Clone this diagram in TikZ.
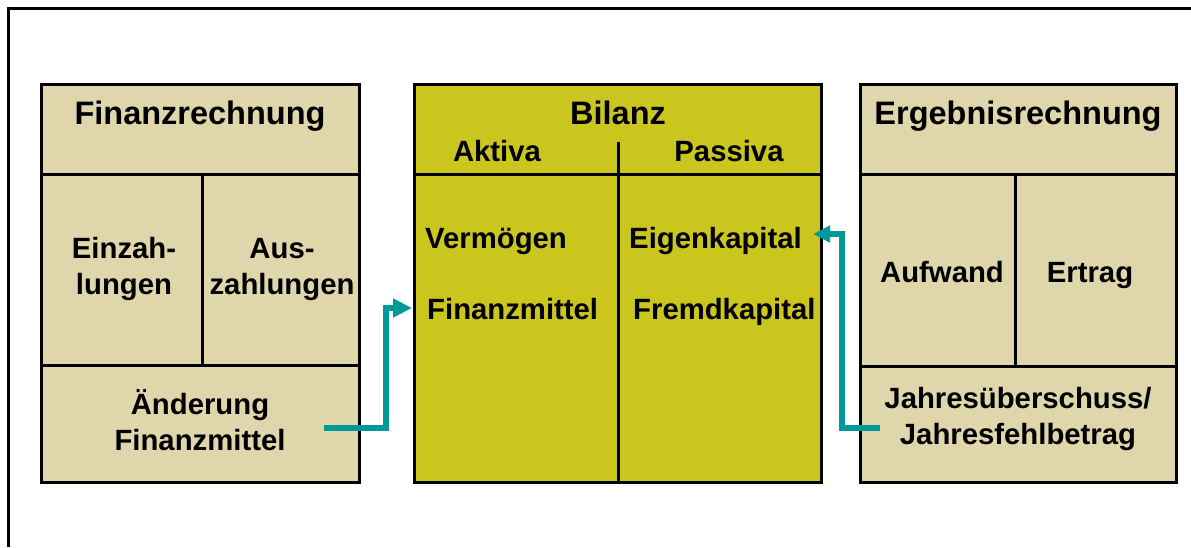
\documentclass[tikz,border=0pt]{standalone}
\usepackage{fontspec}
\setmainfont{Liberation Sans}
\usetikzlibrary{arrows.meta}
\definecolor{boxtan}{HTML}{DFD6AC}
\definecolor{boxolive}{HTML}{CAC61E}
\definecolor{arrowteal}{HTML}{009999}
\begin{document}
\begin{tikzpicture}[x=1pt,y=-1pt,
  cell/.style={draw=black, line width=3pt},
  frame/.style={draw=black, line width=3pt},
  title/.style={font=\bfseries\fontsize{32.5}{39}\selectfont, anchor=base, inner sep=0pt},
  lbl/.style={font=\bfseries\fontsize{29.3}{35.5}\selectfont, anchor=base, inner sep=0pt, align=center},
  lblw/.style={font=\bfseries\fontsize{29.3}{35.5}\selectfont, anchor=base west, inner sep=0pt},
  conn/.style={draw=arrowteal, line width=6pt, -{Triangle[length=19pt,width=18pt]}}]
\useasboundingbox (0,0) rectangle (1191,547);
\draw[frame] (8,547) -- (8,8) -- (1191,8);
% Finanzrechnung
\draw[cell, fill=boxtan] (41,84) rectangle (359,174);
\draw[cell, fill=boxtan] (41,174) rectangle (202,365);
\draw[cell, fill=boxtan] (202,174) rectangle (359,365);
\draw[cell, fill=boxtan] (41,365) rectangle (359,482);
% Bilanz
\draw[cell, fill=boxolive] (414,84) rectangle (821,174);
\draw[cell, fill=boxolive] (414,174) rectangle (618,482);
\draw[cell, fill=boxolive] (618,174) rectangle (821,482);
\draw[cell] (618,142) -- (618,174);
% Ergebnisrechnung
\draw[cell, fill=boxtan] (860,84) rectangle (1176,174);
\draw[cell, fill=boxtan] (860,174) rectangle (1015,366);
\draw[cell, fill=boxtan] (1015,174) rectangle (1176,366);
\draw[cell, fill=boxtan] (860,366) rectangle (1176,482);
% texts (multi-line nodes: base = baseline of last line)
\node[title] (finT) at (200,124) {Finanzrechnung};
\node[lbl] (einz) at (124,294) {Einzah-\\lungen};
\node[lbl] (ausz) at (282,294) {Aus-\\zahlungen};
\node[lbl] (aend) at (200,450) {Änderung\\Finanzmittel};
\node[title] (bilT) at (618,124) {Bilanz};
\node[lbl] (akt) at (497,161) {Aktiva};
\node[lbl] (pas) at (729,161) {Passiva};
\node[lblw] (verm) at (425,248) {Vermögen};
\node[lblw] (finm) at (427,319) {Finanzmittel};
\node[lblw] (eigk) at (629,248) {Eigenkapital};
\node[lblw] (fremdk) at (633,319) {Fremdkapital};
\node[title] (ergT) at (1018,124) {Ergebnisrechnung};
\node[lbl] (aufw) at (942,282) {Aufwand};
\node[lbl] (ertr) at (1090,282) {Ertrag};
\node[lbl] (jahr) at (1018,444) {Jahresüberschuss/\\Jahresfehlbetrag};
% connectors
\coordinate (a1s) at (324,428);
\coordinate (a1e) at (412,308);
\coordinate (a2s) at (880,428);
\coordinate (a2e) at (813,234);
\draw[conn] (a1s) -- ++(62,0) |- (a1e);
\draw[conn, -{Triangle[length=17pt,width=16pt]}] (a2s) -- ++(-38,0) |- (a2e);
\end{tikzpicture}
\end{document}
